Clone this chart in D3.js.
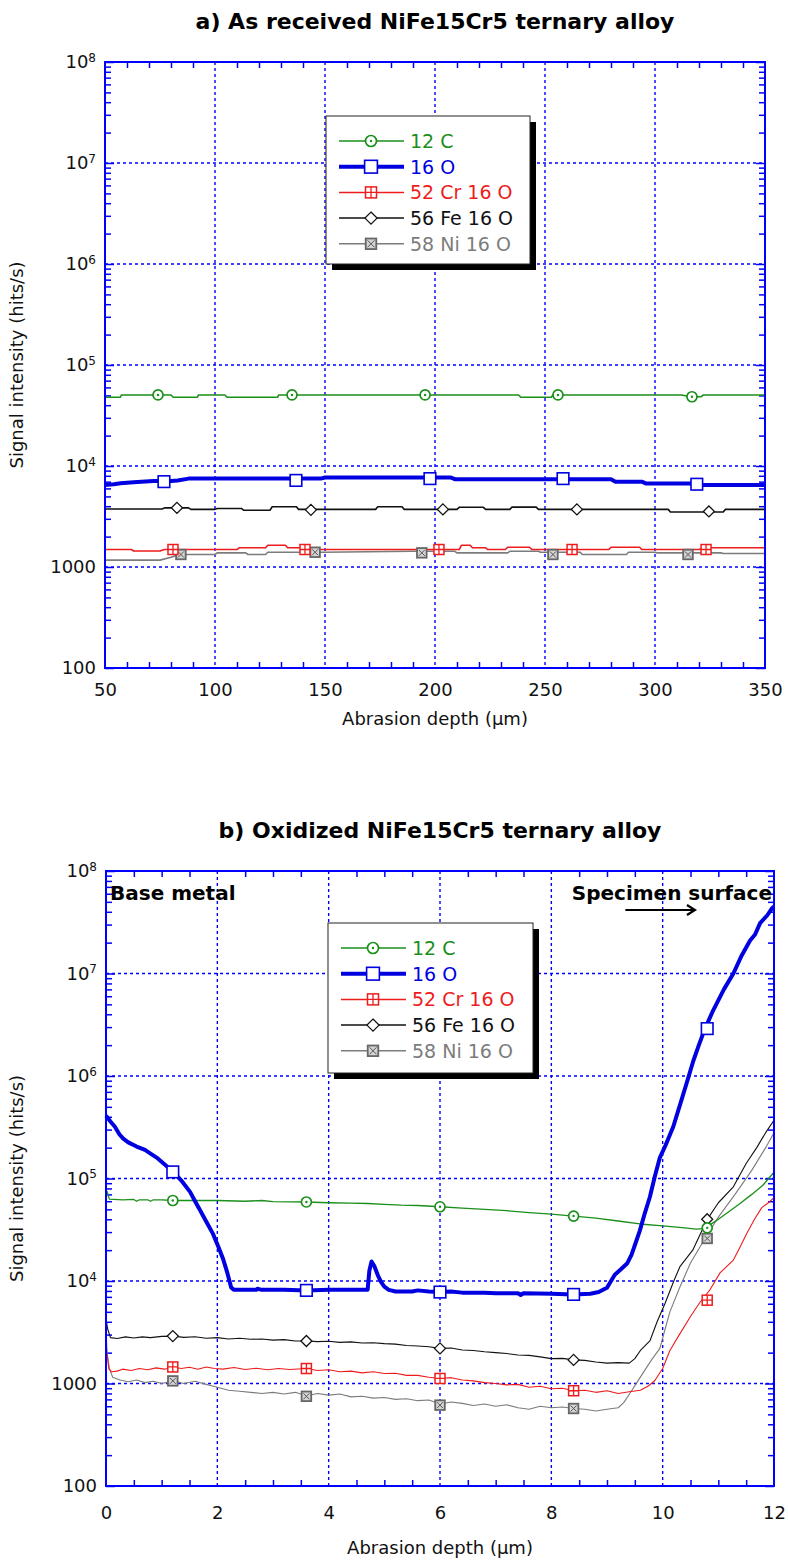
<!DOCTYPE html>
<html>
<head>
<meta charset="utf-8">
<script src="https://cdn.jsdelivr.net/npm/d3@7"></script>
<style>
  body { margin: 0; background: #fff; }
</style>
</head>
<body>
<div id="chart"></div>
<script>
// series names, same order in both legends
const seriesNames = ["12 C", "16 O", "52 Cr 16 O", "56 Fe 16 O", "58 Ni 16 O"];

// y axis (log)
const yTicks = [1e2, 1e3, 1e4, 1e5, 1e6, 1e7, 1e8];
const yTickLabels = ["100", "1000", "10^4", "10^5", "10^6", "10^7", "10^8"];

// ---- a) as received : depth 50-350 µm ----
const xTicksA = [50, 100, 150, 200, 250, 300, 350];
const cA = [[50,4.8e4],[57,4.8e4],[57.5,5.05e4],[80,5.05e4],[81,4.8e4],[92,4.8e4],[92.5,5.05e4],[104.5,5.05e4],[105.5,4.8e4],[128.5,4.8e4],[129,5.05e4],[238,5.05e4],[239,4.8e4],[253,4.8e4],[253.5,5.05e4],[312,5.05e4],[316,4.85e4],[321,4.85e4],[322,5.05e4],[350,5.05e4]];
const oA = [[50,6.5e3],[54,6.6e3],[57,6.75e3],[63,6.9e3],[72,7.1e3],[80,7.1e3],[83,7.2e3],[88,7.5e3],[148,7.5e3],[150,7.7e3],[207,7.7e3],[209,7.4e3],[280,7.4e3],[282,7.0e3],[294,7.0e3],[296,6.7e3],[318,6.7e3],[321,6.5e3],[350,6.5e3]];
const crA = [[50,1.49e3],[62,1.49e3],[63,1.44e3],[75,1.44e3],[77,1.49e3],[110,1.49e3],[111,1.55e3],[123,1.55e3],[124,1.64e3],[132,1.64e3],[133,1.55e3],[141,1.55e3],[143,1.49e3],[211,1.49e3],[212,1.64e3],[216,1.64e3],[217,1.55e3],[223,1.55e3],[224,1.49e3],[232,1.49e3],[233,1.57e3],[243,1.57e3],[244,1.49e3],[279,1.49e3],[280,1.57e3],[293,1.57e3],[294,1.49e3],[320,1.49e3],[322,1.55e3],[350,1.55e3]];
const feA = [[50,3.75e3],[76,3.75e3],[77,3.85e3],[88,3.85e3],[89,3.72e3],[100,3.72e3],[101,3.8e3],[112,3.8e3],[113,3.65e3],[125,3.65e3],[126,3.95e3],[137,3.95e3],[138,3.72e3],[173,3.72e3],[174,3.95e3],[185,3.95e3],[186,3.72e3],[210,3.72e3],[211,3.9e3],[222,3.9e3],[223,3.72e3],[234,3.72e3],[235,3.92e3],[246,3.92e3],[247,3.72e3],[306,3.72e3],[307,3.5e3],[331,3.5e3],[332,3.72e3],[350,3.72e3]];
const niA = [[50,1.17e3],[75,1.17e3],[80,1.25e3],[84,1.33e3],[100,1.33e3],[101,1.38e3],[114,1.38e3],[115,1.33e3],[123,1.33e3],[124,1.40e3],[149,1.40e3],[190,1.43e3],[209,1.43e3],[210,1.38e3],[233,1.38e3],[234,1.43e3],[247,1.43e3],[248,1.40e3],[266,1.40e3],[267,1.33e3],[287,1.33e3],[288,1.40e3],[300,1.40e3],[301,1.38e3],[330,1.38e3],[331,1.36e3],[350,1.36e3]];
// symbols on the curves
const cA_mk = [[74.1,5.05e4],[135,5.05e4],[195.5,5.05e4],[255.9,5.05e4],[316.8,4.85e4]];
const oA_mk = [[76.8,7.0e3],[136.8,7.2e3],[197.7,7.5e3],[258.2,7.5e3],[319,6.6e3]];
const crA_mk = [[80.9,1.49e3],[140.9,1.49e3],[201.8,1.49e3],[262.3,1.49e3],[323.2,1.49e3]];
const feA_mk = [[82.7,3.85e3],[143.6,3.68e3],[203.6,3.72e3],[264.5,3.72e3],[324.5,3.55e3]];
const niA_mk = [[84.5,1.33e3],[145.5,1.40e3],[194,1.38e3],[253.6,1.33e3],[315,1.33e3]];

// ---- b) oxidized : depth 0-12 µm ----
const xTicksB = [0, 2, 4, 6, 8, 10, 12];
const cB = [[0,6.0e4],[0.02,7.5e4],[0.06,6.3e4],[0.3,6.2e4],[0.5,6.25e4],[0.55,6.0e4],[0.6,6.2e4],[0.75,6.2e4],[0.8,6.0e4],[0.85,6.2e4],[1.0,6.2e4],[1.21,6.1e4],[1.6,6.1e4],[2.0,6.1e4],[2.5,6.0e4],[2.8,6.1e4],[3.0,5.95e4],[3.6,5.9e4],[4.0,5.8e4],[4.4,5.75e4],[4.7,5.7e4],[5.0,5.6e4],[5.3,5.5e4],[5.6,5.45e4],[6.0,5.3e4],[6.4,5.15e4],[6.8,5.0e4],[7.2,4.85e4],[7.6,4.65e4],[8.0,4.5e4],[8.4,4.3e4],[8.8,4.1e4],[9.2,3.85e4],[9.59,3.6e4],[10.0,3.45e4],[10.4,3.3e4],[10.6,3.2e4],[10.75,3.25e4],[10.97,3.9e4],[11.2,4.8e4],[11.39,5.7e4],[11.6,7.0e4],[11.8,8.6e4],[12,1.15e5]];
const oB = [[0,4.1e5],[0.08,3.6e5],[0.16,3.2e5],[0.24,2.7e5],[0.31,2.45e5],[0.4,2.25e5],[0.55,2.05e5],[0.7,1.9e5],[0.8,1.75e5],[0.91,1.6e5],[1.05,1.38e5],[1.21,1.16e5],[1.35,0.96e5],[1.51,0.74e5],[1.6,0.6e5],[1.69,0.49e5],[1.8,0.38e5],[1.92,0.29e5],[2.02,0.215e5],[2.1,0.166e5],[2.18,1.2e4],[2.25,8.6e3],[2.3,8.2e3],[2.7,8.2e3],[2.72,8.4e3],[2.8,8.2e3],[3.2,8.2e3],[3.6,8.1e3],[4.0,8.2e3],[4.4,8.2e3],[4.7,8.2e3],[4.73,1.25e4],[4.77,1.55e4],[4.82,1.4e4],[4.88,1.15e4],[4.94,9.8e3],[5.0,8.8e3],[5.08,8.2e3],[5.2,7.9e3],[5.5,7.9e3],[5.6,8.1e3],[5.8,7.9e3],[6.0,7.8e3],[6.2,7.9e3],[6.4,7.7e3],[6.8,7.7e3],[7.0,7.6e3],[7.4,7.6e3],[7.45,7.3e3],[7.5,7.6e3],[8.0,7.5e3],[8.4,7.4e3],[8.7,7.5e3],[8.85,7.8e3],[9.0,8.6e3],[9.14,1.15e4],[9.25,1.3e4],[9.36,1.48e4],[9.44,1.8e4],[9.52,2.4e4],[9.59,3.1e4],[9.68,4.6e4],[9.77,6.6e4],[9.86,1.05e5],[9.95,1.6e5],[10.05,2.1e5],[10.19,3.2e5],[10.3,5.0e5],[10.43,8.5e5],[10.55,1.4e6],[10.65,2.0e6],[10.76,2.9e6],[10.91,4.4e6],[11.1,7.0e6],[11.27,1.0e7],[11.42,1.5e7],[11.57,2.1e7],[11.66,2.4e7],[11.75,3.1e7],[11.88,3.7e7],[11.96,4.3e7],[12,4.5e7]];
const crB = [[0,2.4e3],[0.02,1.9e3],[0.05,1.4e3],[0.1,1.3e3],[0.2,1.32e3],[0.3,1.38e3],[0.45,1.34e3],[0.6,1.4e3],[0.75,1.36e3],[0.9,1.42e3],[1.05,1.38e3],[1.21,1.45e3],[1.35,1.4e3],[1.5,1.44e3],[1.65,1.38e3],[1.8,1.45e3],[1.95,1.4e3],[2.1,1.38e3],[2.3,1.43e3],[2.5,1.37e3],[2.7,1.41e3],[2.9,1.36e3],[3.1,1.4e3],[3.3,1.37e3],[3.6,1.4e3],[3.8,1.34e3],[4.0,1.36e3],[4.2,1.3e3],[4.4,1.32e3],[4.6,1.27e3],[4.8,1.3e3],[5.0,1.25e3],[5.2,1.26e3],[5.4,1.2e3],[5.6,1.2e3],[5.8,1.15e3],[6.0,1.12e3],[6.2,1.14e3],[6.4,1.08e3],[6.6,1.06e3],[6.8,1.02e3],[7.0,1.0e3],[7.2,0.97e3],[7.4,0.98e3],[7.6,0.92e3],[7.8,0.94e3],[8.0,0.89e3],[8.2,0.9e3],[8.4,0.85e3],[8.6,0.86e3],[8.8,0.82e3],[9.0,0.85e3],[9.2,0.8e3],[9.4,0.83e3],[9.6,0.86e3],[9.75,0.95e3],[9.86,1.07e3],[10.0,1.4e3],[10.13,2.1e3],[10.3,3.0e3],[10.5,4.5e3],[10.67,6.2e3],[10.85,8.2e3],[11.03,1.2e4],[11.27,1.6e4],[11.4,2.2e4],[11.51,2.9e4],[11.65,4.0e4],[11.78,5.2e4],[11.9,5.8e4],[12,6.5e4]];
const feB = [[0,4.3e3],[0.03,3.4e3],[0.08,2.8e3],[0.2,2.75e3],[0.35,2.85e3],[0.5,2.78e3],[0.65,2.85e3],[0.8,2.8e3],[1.0,2.88e3],[1.21,2.9e3],[1.4,2.82e3],[1.6,2.86e3],[1.8,2.76e3],[2.0,2.8e3],[2.2,2.72e3],[2.4,2.76e3],[2.6,2.7e3],[2.8,2.72e3],[3.0,2.65e3],[3.2,2.68e3],[3.4,2.6e3],[3.6,2.6e3],[3.8,2.56e3],[4.0,2.58e3],[4.2,2.52e3],[4.4,2.55e3],[4.6,2.48e3],[4.8,2.5e3],[5.0,2.45e3],[5.2,2.42e3],[5.4,2.35e3],[5.6,2.32e3],[5.8,2.28e3],[6.0,2.2e3],[6.2,2.22e3],[6.4,2.12e3],[6.6,2.1e3],[6.8,2.04e3],[7.0,2.0e3],[7.2,1.96e3],[7.4,1.9e3],[7.6,1.88e3],[7.8,1.82e3],[8.0,1.75e3],[8.2,1.76e3],[8.4,1.7e3],[8.6,1.68e3],[8.8,1.62e3],[9.0,1.58e3],[9.2,1.6e3],[9.4,1.58e3],[9.5,1.75e3],[9.6,2.1e3],[9.77,2.6e3],[9.9,4.0e3],[10.04,6.0e3],[10.2,1.0e4],[10.31,1.38e4],[10.54,2.0e4],[10.79,3.9e4],[11.0,5.8e4],[11.27,8.3e4],[11.5,1.4e5],[11.69,2.0e5],[11.85,2.8e5],[12,3.7e5]];
const niB = [[0,3.2e3],[0.02,2.0e3],[0.06,1.4e3],[0.12,1.15e3],[0.25,1.08e3],[0.4,1.04e3],[0.55,1.08e3],[0.7,1.02e3],[0.85,1.05e3],[1.0,1.0e3],[1.21,1.06e3],[1.4,1.0e3],[1.6,1.05e3],[1.8,0.98e3],[2.0,0.92e3],[2.2,0.86e3],[2.4,0.84e3],[2.6,0.82e3],[2.8,0.8e3],[3.0,0.82e3],[3.2,0.79e3],[3.4,0.82e3],[3.6,0.76e3],[3.8,0.8e3],[4.0,0.77e3],[4.2,0.79e3],[4.4,0.74e3],[4.6,0.75e3],[4.8,0.72e3],[5.0,0.73e3],[5.2,0.7e3],[5.4,0.71e3],[5.6,0.68e3],[5.8,0.69e3],[6.0,0.63e3],[6.2,0.66e3],[6.4,0.64e3],[6.6,0.61e3],[6.8,0.63e3],[7.0,0.6e3],[7.2,0.62e3],[7.4,0.58e3],[7.6,0.56e3],[7.8,0.6e3],[8.0,0.58e3],[8.2,0.59e3],[8.4,0.57e3],[8.6,0.56e3],[8.8,0.54e3],[9.0,0.56e3],[9.2,0.58e3],[9.3,0.65e3],[9.41,0.8e3],[9.55,1.05e3],[9.68,1.35e3],[9.8,1.7e3],[9.95,2.2e3],[10.05,3.5e3],[10.13,5.0e3],[10.3,8.5e3],[10.5,1.5e4],[10.76,2.6e4],[11.0,4.2e4],[11.3,7.0e4],[11.6,1.2e5],[11.85,2.0e5],[12,2.8e5]];
const cB_mk = [[1.2,6.1e4],[3.6,5.9e4],[6.0,5.3e4],[8.4,4.3e4],[10.8,3.3e4]];
const oB_mk = [[1.2,1.16e5],[3.6,8.1e3],[6.0,7.8e3],[8.4,7.4e3],[10.8,2.9e6]];
const crB_mk = [[1.2,1.45e3],[3.6,1.4e3],[6.0,1.12e3],[8.4,850],[10.8,6.5e3]];
const feB_mk = [[1.2,2.9e3],[3.6,2.6e3],[6.0,2.2e3],[8.4,1.7e3],[10.8,4.0e4]];
const niB_mk = [[1.2,1.06e3],[3.6,750],[6.0,615],[8.4,570],[10.8,2.6e4]];

// styles
const colors = ["#1a8f1a", "#0000e0", "#ee1c1c", "#111111", "#7c7c7c"];
const symbols = ["circle", "square", "plus", "diamond", "cross"];
const axisBlue = "#0000ff";
const FONT = "'DejaVu Sans', 'Liberation Sans', Arial, sans-serif";

const svg = d3.select("#chart").append("svg")
    .attr("width", 788)
    .attr("height", 1560)
    .style("background", "#fff");

// 記号を描く
function drawMarker(g, type, cx, cy, color, big) {
  var s = big ? 1.1 : 1;
  if (type == "circle") {
    g.append("circle").attr("cx", cx).attr("cy", cy).attr("r", 5 * s)
        .attr("fill", "#fff").attr("stroke", color).attr("stroke-width", 1.7);
    g.append("circle").attr("cx", cx).attr("cy", cy).attr("r", 1.2)
        .attr("fill", color);
  } else if (type == "square") {
    var h = 5.8 * s;
    g.append("rect").attr("x", cx - h).attr("y", cy - h).attr("width", 2 * h).attr("height", 2 * h)
        .attr("fill", "#fff").attr("stroke", color).attr("stroke-width", 1.6);
  } else if (type == "plus") {
    var h = 5 * s;
    g.append("rect").attr("x", cx - h).attr("y", cy - h).attr("width", 2 * h).attr("height", 2 * h)
        .attr("fill", "#fff").attr("stroke", color).attr("stroke-width", 1.5);
    g.append("path").attr("d", "M" + (cx - h) + "," + cy + "H" + (cx + h) + "M" + cx + "," + (cy - h) + "V" + (cy + h))
        .attr("stroke", color).attr("stroke-width", 1.3);
  } else if (type == "diamond") {
    var h = 5.5 * s;
    g.append("path").attr("d", "M" + cx + "," + (cy - h) + "L" + (cx + h) + "," + cy + "L" + cx + "," + (cy + h) + "L" + (cx - h) + "," + cy + "Z")
        .attr("fill", "#fff").attr("stroke", color).attr("stroke-width", 1.3);
  } else if (type == "cross") {
    var h = 4.8 * s;
    g.append("rect").attr("x", cx - h).attr("y", cy - h).attr("width", 2 * h).attr("height", 2 * h)
        .attr("fill", "#d4d4d4").attr("stroke", "#666").attr("stroke-width", 1.8);
    var k = h - 1.8;
    g.append("path").attr("d", "M" + (cx - k) + "," + (cy - k) + "L" + (cx + k) + "," + (cy + k) + "M" + (cx + k) + "," + (cy - k) + "L" + (cx - k) + "," + (cy + k))
        .attr("stroke", "#555").attr("stroke-width", 1);
  }
}

function drawPanel(p) {
  const x = d3.scaleLinear().domain(p.xDomain).range([p.left, p.right]);
  const y = d3.scaleLog().domain([1e2, 1e8]).range([p.bottom, p.top]);
  const g = svg.append("g");

  // タイトル
  g.append("text")
      .attr("x", (p.left + p.right) / 2)
      .attr("y", p.titleY)
      .attr("text-anchor", "middle")
      .attr("font-family", FONT).attr("font-weight", "bold").attr("font-size", 22)
      .text(p.title);

  // グリッド
  g.selectAll(".vgrid").data(p.xTicks.slice(1, -1)).enter().append("line")
      .attr("x1", d => x(d)).attr("x2", d => x(d))
      .attr("y1", p.top).attr("y2", p.bottom)
      .attr("stroke", axisBlue).attr("stroke-width", 1.4).attr("stroke-dasharray", "3,3");
  g.selectAll(".hgrid").data(yTicks.slice(1, -1)).enter().append("line")
      .attr("y1", d => y(d)).attr("y2", d => y(d))
      .attr("x1", p.left).attr("x2", p.right)
      .attr("stroke", axisBlue).attr("stroke-width", 1.4).attr("stroke-dasharray", "3,3");

  // 補助目盛 (inside)
  const xMinor = d3.range(p.xDomain[0], p.xDomain[1], p.xMinorStep)
      .filter(v => p.xTicks.indexOf(+v.toFixed(3)) < 0);
  const yMinor = [];
  yTicks.slice(0, -1).forEach(d => { for (var k = 2; k <= 9; k++) yMinor.push(d * k); });

  const tickGroups = [
    g.append("g").attr("transform", "translate(0," + p.bottom + ")")
        .call(d3.axisBottom(x).tickValues(xMinor).tickSize(-6).tickFormat("")),
    g.append("g").attr("transform", "translate(0," + p.top + ")")
        .call(d3.axisTop(x).tickValues(xMinor).tickSize(-6).tickFormat("")),
    g.append("g").attr("transform", "translate(" + p.left + ",0)")
        .call(d3.axisLeft(y).tickValues(yMinor).tickSize(-6).tickFormat("")),
    g.append("g").attr("transform", "translate(" + p.right + ",0)")
        .call(d3.axisRight(y).tickValues(yMinor).tickSize(-6).tickFormat("")),
    g.append("g").attr("transform", "translate(" + p.left + ",0)")
        .call(d3.axisLeft(y).tickValues(yTicks).tickSize(-9).tickFormat("")),
    g.append("g").attr("transform", "translate(" + p.right + ",0)")
        .call(d3.axisRight(y).tickValues(yTicks).tickSize(-9).tickFormat(""))
  ];
  tickGroups.forEach(tg => {
    tg.select(".domain").remove();
    tg.selectAll("line").attr("stroke", axisBlue).attr("stroke-width", 1.5);
  });

  // X軸ラベル
  const xAx = g.append("g").attr("transform", "translate(0," + p.bottom + ")")
      .call(d3.axisBottom(x).tickValues(p.xTicks).tickSize(0).tickPadding(p.xLabelPad));
  xAx.select(".domain").remove();
  xAx.selectAll("text").attr("font-family", FONT).attr("font-size", 18).attr("fill", "#111");

  // Y軸ラベル (10^n は上付き)
  const yAx = g.append("g").attr("transform", "translate(" + p.left + ",0)")
      .call(d3.axisLeft(y).tickValues(yTicks).tickSize(0).tickPadding(9)
          .tickFormat((d, i) => yTickLabels[i]));
  yAx.select(".domain").remove();
  yAx.selectAll("text").attr("font-family", FONT).attr("font-size", 18).attr("fill", "#111")
      .each(function (lab) {
        var t = d3.select(this);
        var s = t.text();
        if (s.indexOf("^") > 0) {
          var parts = s.split("^");
          t.text("");
          t.append("tspan").text(parts[0]);
          t.append("tspan").attr("dy", "-0.55em").attr("font-size", 12).text(parts[1]);
        }
      });

  // 軸タイトル
  g.append("text")
      .attr("x", (p.left + p.right) / 2).attr("y", p.xTitleY)
      .attr("text-anchor", "middle")
      .attr("font-family", FONT).attr("font-size", 18).attr("fill", "#111")
      .text("Abrasion depth (µm)");
  g.append("text")
      .attr("transform", "translate(23," + (p.top + p.bottom) / 2 + ") rotate(-90)")
      .attr("text-anchor", "middle")
      .attr("font-family", FONT).attr("font-size", 18).attr("fill", "#111")
      .text("Signal intensity (hits/s)");

  // 線 (灰→黒→赤→緑→青の順で重ねる)
  const line = d3.line().x(d => x(d[0])).y(d => y(d[1]));
  [4, 3, 2, 0, 1].forEach(i => {
    g.append("path").datum(p.series[i])
        .attr("d", line)
        .attr("fill", "none")
        .attr("stroke", colors[i])
        .attr("stroke-width", p.widths[i])
        .attr("stroke-linejoin", "round");
  });
  [4, 3, 2, 0, 1].forEach(i => {
    p.marks[i].forEach(d => drawMarker(g, symbols[i], x(d[0]), y(d[1]), colors[i], false));
  });

  // 枠
  g.append("rect")
      .attr("x", p.left).attr("y", p.top)
      .attr("width", p.right - p.left).attr("height", p.bottom - p.top)
      .attr("fill", "none").attr("stroke", axisBlue).attr("stroke-width", 2);

  // 凡例
  const L = p.legend;
  const lg = g.append("g");
  lg.append("rect").attr("x", L.x + 6).attr("y", L.y + 6).attr("width", L.w).attr("height", L.h).attr("fill", "#000");
  lg.append("rect").attr("x", L.x).attr("y", L.y).attr("width", L.w).attr("height", L.h)
      .attr("fill", "#fff").attr("stroke", "#222").attr("stroke-width", 1);
  seriesNames.forEach((name, i) => {
    var ry = L.y + 25 + i * 25.7;
    lg.append("line").attr("x1", L.x + 13).attr("x2", L.x + 78).attr("y1", ry).attr("y2", ry)
        .attr("stroke", colors[i]).attr("stroke-width", i == 1 ? 4 : 1.5);
    drawMarker(lg, symbols[i], L.x + 45, ry, colors[i], true);
    lg.append("text").attr("x", L.x + 84).attr("y", ry).attr("dy", "0.36em")
        .attr("font-family", FONT).attr("font-size", 19).attr("fill", colors[i])
        .text(name);
  });

  if (p.notes) p.notes(g, x, y);
}

// a) As received
drawPanel({
  title: "a) As received NiFe15Cr5 ternary alloy", titleY: 29,
  left: 105, right: 765, top: 62, bottom: 668,
  xDomain: [50, 350], xTicks: xTicksA, xMinorStep: 10, xLabelPad: 15, xTitleY: 725,
  series: [cA, oA, crA, feA, niA],
  marks: [cA_mk, oA_mk, crA_mk, feA_mk, niA_mk],
  widths: [1.6, 4, 1.6, 1.6, 1.6],
  legend: {x: 326, y: 116, w: 204, h: 148}
});

// b) Oxidized
drawPanel({
  title: "b) Oxidized NiFe15Cr5 ternary alloy", titleY: 838,
  left: 106, right: 774, top: 871, bottom: 1486,
  xDomain: [0, 12], xTicks: xTicksB, xMinorStep: 0.5, xLabelPad: 20, xTitleY: 1554,
  series: [cB, oB, crB, feB, niB],
  marks: [cB_mk, oB_mk, crB_mk, feB_mk, niB_mk],
  widths: [1.3, 4, 1.1, 1.1, 1.1],
  legend: {x: 328, y: 923, w: 205, h: 150},
  notes: function (g, x, y) {
    g.append("text").attr("x", x(0) + 4).attr("y", 900)
        .attr("font-family", FONT).attr("font-weight", "bold").attr("font-size", 20)
        .text("Base metal");
    g.append("text").attr("x", x(12) - 2).attr("y", 900).attr("text-anchor", "end")
        .attr("font-family", FONT).attr("font-weight", "bold").attr("font-size", 20)
        .text("Specimen surface");
    // 矢印
    var ay = 910, ax0 = x(9.33), ax1 = x(10.58);
    g.append("path")
        .attr("d", "M" + ax0 + "," + ay + "H" + ax1 + "M" + (ax1 - 8) + "," + (ay - 5) + "L" + ax1 + "," + ay + "L" + (ax1 - 8) + "," + (ay + 5))
        .attr("fill", "none").attr("stroke", "#000").attr("stroke-width", 2.2);
  }
});
</script>
</body>
</html>
